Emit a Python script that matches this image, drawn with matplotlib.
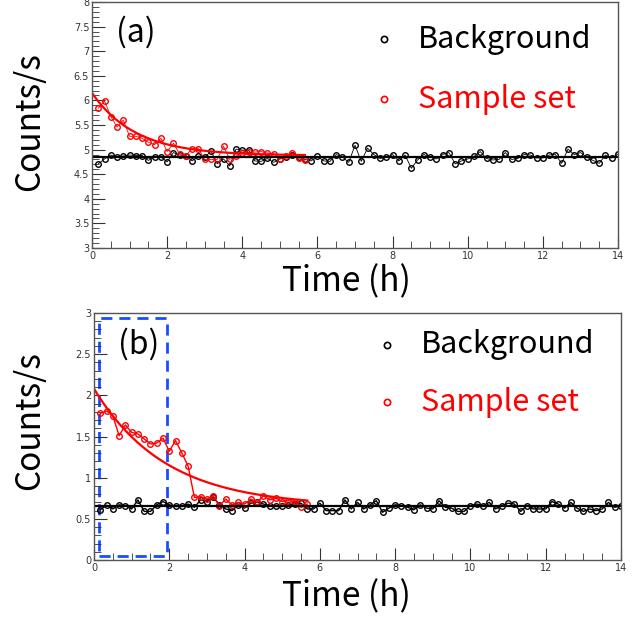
import matplotlib.pyplot as plt
import numpy as np
from matplotlib.patches import Rectangle
from matplotlib.ticker import MultipleLocator

# temps : une mesure toutes les 10 min
t_bkg = np.arange(1, 85) / 6
t_smp = np.arange(1, 35) / 6

# (a)
bkg_a = [4.71, 4.81, 4.89, 4.85, 4.87, 4.89, 4.88, 4.88, 4.78, 4.85, 4.85, 4.75,
         4.94, 4.89, 4.88, 4.77, 4.87, 4.84, 4.97, 4.71, 4.81, 4.67, 5.01, 4.99,
         4.99, 4.77, 4.76, 4.82, 4.74, 4.81, 4.84, 4.90, 4.85, 4.80, 4.77, 4.86,
         4.77, 4.76, 4.90, 4.85, 4.74, 5.09, 4.76, 5.03, 4.90, 4.82, 4.84, 4.90,
         4.77, 4.89, 4.62, 4.79, 4.90, 4.85, 4.81, 4.90, 4.94, 4.71, 4.77, 4.81,
         4.86, 4.96, 4.82, 4.79, 4.80, 4.94, 4.80, 4.82, 4.90, 4.89, 4.83, 4.83,
         4.89, 4.90, 4.72, 5.01, 4.90, 4.94, 4.85, 4.78, 4.72, 4.89, 4.83, 4.91]
smp_a = [5.84, 5.99, 5.67, 5.46, 5.60, 5.27, 5.27, 5.23, 5.15, 5.10, 5.23, 4.96,
         5.13, 4.91, 4.88, 5.02, 5.02, 4.80, 4.80, 4.80, 5.07, 4.80, 4.87, 4.94,
         4.95, 4.95, 4.96, 4.93, 4.92, 4.81, 4.87, 4.93, 4.82, 4.78]
fit_bkg_a = 4.84
fit_smp_a = (4.88, 1.27, 1.16)   # A + B*exp(-t/tau)

# (b)
bkg_b = [0.61, 0.665, 0.62, 0.67, 0.66, 0.62, 0.73, 0.59, 0.59, 0.67, 0.71, 0.67,
         0.65, 0.65, 0.68, 0.64, 0.73, 0.71, 0.76, 0.67, 0.62, 0.60, 0.67, 0.63,
         0.69, 0.70, 0.68, 0.66, 0.65, 0.65, 0.67, 0.68, 0.69, 0.62, 0.62, 0.69,
         0.60, 0.60, 0.60, 0.73, 0.62, 0.70, 0.62, 0.67, 0.72, 0.58, 0.63, 0.67,
         0.66, 0.64, 0.61, 0.67, 0.63, 0.62, 0.72, 0.64, 0.63, 0.59, 0.59, 0.66,
         0.68, 0.66, 0.70, 0.62, 0.66, 0.69, 0.68, 0.59, 0.66, 0.62, 0.62, 0.62,
         0.71, 0.68, 0.63, 0.70, 0.63, 0.59, 0.62, 0.60, 0.62, 0.70, 0.64, 0.66]
smp_b = [1.78, 1.81, 1.75, 1.51, 1.64, 1.55, 1.53, 1.47, 1.41, 1.42, 1.48, 1.32,
         1.45, 1.30, 1.14, 0.76, 0.77, 0.74, 0.78, 0.66, 0.74, 0.67, 0.70, 0.68,
         0.74, 0.70, 0.78, 0.73, 0.75, 0.71, 0.72, 0.71, 0.64, 0.68]
fit_bkg_b = 0.65
fit_smp_b = (0.65, 1.43, 1.9)

roi_b = (0.13, 1.94, 0.05, 2.94)   # t0, t1, y0, y1 du cadre pointillé

label_font = ['Noto Sans CJK JP', 'DejaVu Sans']


def tracer_panneau(ax, bkg, smp, fit_bkg, fit_smp, lw, ylim, lettre, leg_y):
    ax.plot(t_bkg, bkg, '-', color='black', lw=lw, marker='o', ms=4,
            mfc='none', mew=1.0)
    ax.plot(t_smp, smp, '-', color='red', lw=lw, marker='o', ms=4,
            mfc='none', mew=1.0)
    ax.plot([0.05, 14], [fit_bkg, fit_bkg], color='black', lw=1.6)
    A, B, tau = fit_smp
    tt = np.linspace(0, t_smp[-1], 200)
    ax.plot(tt, A + B * np.exp(-tt / tau), color='red', lw=1.6)

    ax.set_xlim(0, 14)
    ax.set_ylim(*ylim)
    ax.xaxis.set_major_locator(MultipleLocator(2))
    ax.xaxis.set_minor_locator(MultipleLocator(0.5))
    ax.yaxis.set_major_locator(MultipleLocator(0.5))
    ax.yaxis.set_minor_locator(MultipleLocator(0.1))
    ax.tick_params(which='both', direction='in', top=False, right=False,
                   labelsize=7, labelcolor='#333333', color='#333333', pad=2)
    ax.tick_params(which='major', length=9)
    ax.tick_params(which='minor', length=5)
    ax.yaxis.set_major_formatter(plt.FuncFormatter(lambda v, p: f"{v:g}"))
    for s in ax.spines.values():
        s.set_color('#555555')
        s.set_linewidth(1.0)

    ax.text(0.045, 0.875, lettre, transform=ax.transAxes, fontsize=23,
            family=label_font, va='center', ha='left')
    # légende
    y1, y2 = leg_y
    ax.plot([0.556], [y1], 'o', ms=4.5, mfc='none', mec='black', mew=1.2,
            transform=ax.transAxes, clip_on=False)
    ax.plot([0.556], [y2], 'o', ms=4.5, mfc='none', mec='red', mew=1.2,
            transform=ax.transAxes, clip_on=False)
    ax.text(0.62, y1, "Background", transform=ax.transAxes, fontsize=22,
            family=label_font, va='center', ha='left', color='black')
    ax.text(0.62, y2, "Sample set", transform=ax.transAxes, fontsize=22,
            family=label_font, va='center', ha='left', color='red')


fig = plt.figure(figsize=(6.37, 6.24), dpi=100)
ax1 = fig.add_axes([92 / 637, 1 - 248 / 624, 526 / 637, 246 / 624])
ax2 = fig.add_axes([94 / 637, 1 - 560 / 624, 527 / 637, 247 / 624])

tracer_panneau(ax1, bkg_a, smp_a, fit_bkg_a, fit_smp_a, 0.6, (3, 8), "(a)",
               (0.848, 0.605))
tracer_panneau(ax2, bkg_b, smp_b, fit_bkg_b, fit_smp_b, 1.0, (0, 3), "(b)",
               (0.872, 0.638))

t0, t1, y0, y1 = roi_b
ax2.add_patch(Rectangle((t0, y0), t1 - t0, y1 - y0, fill=False,
                        edgecolor='#1a4cff', lw=2, linestyle=(0, (4, 2.5))))

fig.text(30 / 637, 1 - 122 / 624, "Counts/s", rotation=90, fontsize=24,
         family=label_font, ha='center', va='center')
fig.text(30 / 637, 1 - 421 / 624, "Counts/s", rotation=90, fontsize=24,
         family=label_font, ha='center', va='center')
fig.text(346 / 637, 1 - 282 / 624, "Time (h)", fontsize=24,
         family=label_font, ha='center', va='center')
fig.text(346 / 637, 1 - 597 / 624, "Time (h)", fontsize=24,
         family=label_font, ha='center', va='center')

fig.savefig("out.png", dpi=100)
